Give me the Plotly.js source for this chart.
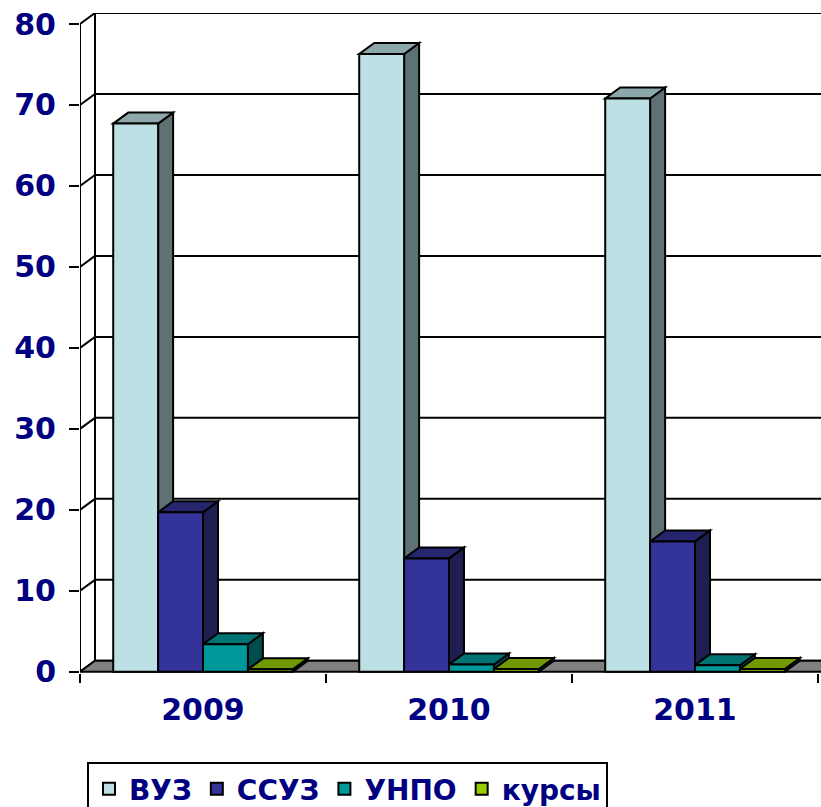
<!DOCTYPE html>
<html>
<head>
<meta charset="utf-8">
<script src="https://cdn.plot.ly/plotly-3.0.1.min.js"></script>
<style>
    body { margin: 0; background: #fff; }
    #plot { width: 821px; height: 807px; }
</style>
</head>
<body>
<div id="plot"></div>
<script>
let years = ['2009', '2010', '2011'];
let names = ['ВУЗ', 'ССУЗ', 'УНПО', 'курсы'];

let vuz = [67.7, 76.3, 70.8];
let ssuz = [19.7, 14.0, 16.1];
let unpo = [3.4, 0.9, 0.8];
let kursy = [0.3, 0.35, 0.35];

let yTicks = [0, 10, 20, 30, 40, 50, 60, 70, 80];

let frontColors = ['#BCE0E3', '#333399', '#009999', '#99CC00'];
let topColors = ['#8DA8AA', '#26266F', '#007373', '#739900'];
let sideColors = ['#5E7173', '#1E1E50', '#004D4D', '#4D6600'];

let series = [vuz, ssuz, unpo, kursy];

// fake 3d: depth offset in pixels, turned into axis units
let pxPerUnit = 8.1;
let pxPerCat = 246;
let depthX = 15 / pxPerCat;
let depthY = 11 / pxPerUnit;

let bargap = 0.27;
let barW = (1 - bargap) / series.length;

let yMin = -0.15;
let yMax = 80 + depthY;
let xMin = -0.5;
let xMax = 2.5 + 3 / pxPerCat;
let marginB = 134;
let plotH = (yMax - yMin) * pxPerUnit;
let marginT = 807 - marginB - plotH;

let navy = '#000080';
let tickFont = { family: 'DejaVu Sans, Arial, sans-serif', size: 30, color: navy, weight: 'bold' };
let legendFont = { family: 'DejaVu Sans, Arial, sans-serif', size: 28, color: navy, weight: 'bold' };

let data = series.map((vals, j) => ({
    x: years,
    y: vals,
    name: names[j],
    type: 'bar',
    marker: { color: frontColors[j], line: { color: '#000', width: 2 } },
    hoverinfo: 'skip'
}));

let shapes = [];
let line = { color: '#000', width: 2 };

// back wall + side wall grid
yTicks.forEach(v => {
    shapes.push({ type: 'line', xref: 'x', yref: 'y', layer: 'below',
        x0: xMin + depthX, x1: xMax + depthX, y0: v + depthY, y1: v + depthY, line: line });
    shapes.push({ type: 'line', xref: 'x', yref: 'y', layer: 'below',
        x0: xMin, x1: xMin + depthX, y0: v, y1: v + depthY, line: line });
});
shapes.push({ type: 'line', xref: 'x', yref: 'y', layer: 'below',
    x0: xMin + depthX, x1: xMin + depthX, y0: depthY, y1: 80 + depthY, line: { color: '#000', width: 2 } });

// floor
shapes.push({ type: 'path', xref: 'x', yref: 'y', layer: 'below',
    path: 'M' + xMin + ',0 L' + (xMax + 1) + ',0 L' + (xMax + 1) + ',' + depthY +
          ' L' + (xMin + depthX) + ',' + depthY + ' Z',
    fillcolor: '#808080', line: line });

// tops and sides of bars
years.forEach((yr, i) => {
    series.forEach((vals, j) => {
        let v = vals[i];
        let l = i - (1 - bargap) / 2 + j * barW;
        let r = l + barW;
        shapes.push({ type: 'path', xref: 'x', yref: 'y', layer: 'below',
            path: 'M' + r + ',0 L' + r + ',' + v + ' L' + (r + depthX) + ',' + (v + depthY) +
                  ' L' + (r + depthX) + ',' + depthY + ' Z',
            fillcolor: sideColors[j], line: line });
        shapes.push({ type: 'path', xref: 'x', yref: 'y', layer: 'below',
            path: 'M' + l + ',' + v + ' L' + r + ',' + v + ' L' + (r + depthX) + ',' + (v + depthY) +
                  ' L' + (l + depthX) + ',' + (v + depthY) + ' Z',
            fillcolor: topColors[j], line: line });
    });
});

// front value axis line
shapes.push({ type: 'line', xref: 'x', yref: 'y', layer: 'above',
    x0: xMin, x1: xMin, y0: 0, y1: 80, line: { color: '#000', width: 2 } });

let layout = {
    width: 821,
    height: 807,
    margin: { l: 80, r: 0, t: marginT, b: marginB, autoexpand: false },
    paper_bgcolor: '#fff',
    plot_bgcolor: '#fff',
    barmode: 'group',
    bargap: bargap,
    bargroupgap: 0,
    showlegend: true,
    xaxis: {
        type: 'category',
        range: [xMin, xMax],
        showgrid: false,
        zeroline: false,
        showline: false,
        ticks: 'outside',
        tickson: 'boundaries',
        ticklen: 9,
        tickwidth: 2,
        tickcolor: '#000',
        ticklabelstandoff: 16,
        tickfont: tickFont
    },
    yaxis: {
        range: [yMin, yMax],
        tickvals: yTicks,
        showgrid: false,
        zeroline: false,
        showline: false,
        ticks: 'outside',
        ticklen: 10,
        tickwidth: 2,
        tickcolor: '#000',
        ticklabelstandoff: 7,
        tickfont: tickFont
    },
    legend: {
        orientation: 'h',
        x: 7 / 741,
        xanchor: 'left',
        y: -(762 - 673) / plotH,
        yanchor: 'top',
        bordercolor: '#000',
        borderwidth: 2,
        bgcolor: '#fff',
        font: legendFont,
        traceorder: 'normal'
    },
    shapes: shapes
};

Plotly.newPlot('plot', data, layout, { displayModeBar: false, staticPlot: true });
</script>
</body>
</html>
